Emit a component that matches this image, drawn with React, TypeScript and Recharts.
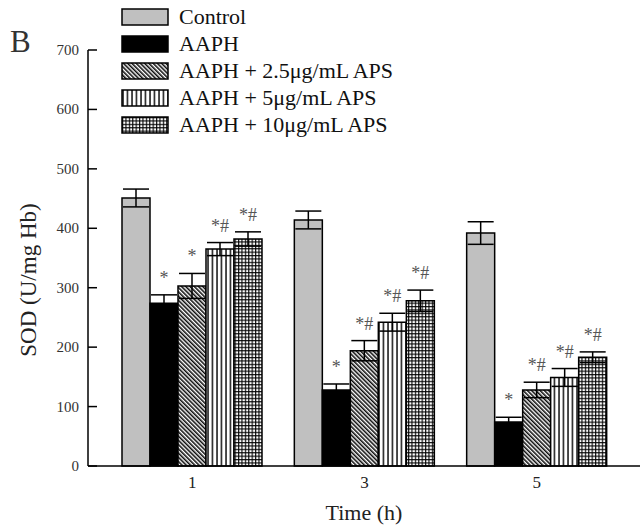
import React from 'react';
import { BarChart, Bar, XAxis, YAxis, ErrorBar, LabelList } from 'recharts';

document.body.style.margin = '0';

const FONT = '"Liberation Serif", "Times New Roman", serif';

// Time points (h)
const times = ['1', '3', '5'];

// SOD activity (U/mg Hb), mean and error per series
const control = [451, 414, 392];
const controlErr = [15, 15, 19];
const aaph = [274, 128, 74];
const aaphErr = [14, 10, 8];
const aps25 = [303, 194, 128];
const aps25Err = [21, 17, 13];
const aps5 = [365, 242, 149];
const aps5Err = [11, 15, 15];
const aps10 = [382, 278, 183];
const aps10Err = [12, 18, 9];

// significance marks above each bar
const aaphMarks = ['*', '*', '*'];
const aps25Marks = ['*', '*#', '*#'];
const aps5Marks = ['*#', '*#', '*#'];
const aps10Marks = ['*#', '*#', '*#'];

const yTicks = [0, 100, 200, 300, 400, 500, 600, 700];

const seriesNames = [
  'Control',
  'AAPH',
  'AAPH + 2.5\u03bcg/mL APS',
  'AAPH + 5\u03bcg/mL APS',
  'AAPH + 10\u03bcg/mL APS',
];
const seriesFills = ['#c0c0c0', '#000000', 'url(#hatch)', 'url(#vlines)', 'url(#grid)'];

const data = times.map((t, i) => ({
  time: t,
  control: control[i],
  controlErr: controlErr[i],
  aaph: aaph[i],
  aaphErr: aaphErr[i],
  aaphMark: aaphMarks[i],
  aps25: aps25[i],
  aps25Err: aps25Err[i],
  aps25Mark: aps25Marks[i],
  aps5: aps5[i],
  aps5Err: aps5Err[i],
  aps5Mark: aps5Marks[i],
  aps10: aps10[i],
  aps10Err: aps10Err[i],
  aps10Mark: aps10Marks[i],
}));

const YTick = (props: any) => {
  const { x, y, payload } = props;
  return (
    <g>
      <line x1={x} x2={x + 9} y1={y} y2={y} stroke="#000" strokeWidth={1.5} />
      <text x={x - 9} y={y} dy={5} textAnchor="end" fontSize={15} fontFamily={FONT} fill="#333">
        {payload.value}
      </text>
    </g>
  );
};

// draws the mark above the error bar; px per unit taken from the bar itself
const markLabel = (values: number[], errs: number[], marks: string[]) => (props: any) => {
  const { x, y, width, height, index } = props;
  const v = values[index];
  const errPx = v ? (errs[index] * height) / v : 0;
  return (
    <text
      x={x + width / 2}
      y={y - errPx - 11}
      textAnchor="middle"
      fontSize={18}
      fontFamily={FONT}
      fill="#555"
    >
      {marks[index]}
    </text>
  );
};

const errProps = { width: 13, stroke: '#000', strokeWidth: 1.5 };

export default function App() {
  return (
    <div style={{ width: 642, height: 528, background: '#fff' }}>
      <BarChart
        width={642}
        height={528}
        data={data}
        margin={{ top: 50, right: 2, bottom: 32, left: 48 }}
        barGap={0}
        barSize={28}
      >
        <defs>
          <pattern id="hatch" width="3" height="3" patternUnits="userSpaceOnUse" patternTransform="rotate(-45)">
            <rect width="3" height="3" fill="#fff" />
            <line x1="0.8" y1="0" x2="0.8" y2="3" stroke="#000" strokeWidth="1.5" />
          </pattern>
          <pattern id="vlines" width="4.5" height="4.5" patternUnits="userSpaceOnUse">
            <rect width="4.5" height="4.5" fill="#fff" />
            <line x1="1" y1="0" x2="1" y2="4.5" stroke="#000" strokeWidth="1.4" />
          </pattern>
          <pattern id="grid" width="3.4" height="3.4" patternUnits="userSpaceOnUse">
            <rect width="3.4" height="3.4" fill="#fff" />
            <line x1="0.6" y1="0" x2="0.6" y2="3.4" stroke="#000" strokeWidth="1.1" />
            <line x1="0" y1="0.6" x2="3.4" y2="0.6" stroke="#000" strokeWidth="1.1" />
          </pattern>
        </defs>

        <XAxis
          dataKey="time"
          tickLine={false}
          axisLine={{ stroke: '#000', strokeWidth: 1.5 }}
          padding={{ left: 18, right: 17 }}
          tick={{ fontSize: 17, fontFamily: FONT, fill: '#222' }}
          tickMargin={4}
        />
        <YAxis
          domain={[0, 700]}
          ticks={yTicks}
          width={40}
          tickSize={0}
          tickMargin={0}
          tickLine={false}
          axisLine={{ stroke: '#000', strokeWidth: 1.5 }}
          tick={<YTick />}
          interval={0}
        />

        <Bar dataKey="control" fill={seriesFills[0]} stroke="#000" strokeWidth={1.5} isAnimationActive={false}>
          <ErrorBar dataKey="controlErr" {...errProps} />
        </Bar>
        <Bar dataKey="aaph" fill={seriesFills[1]} stroke="#000" strokeWidth={1.5} isAnimationActive={false}>
          <ErrorBar dataKey="aaphErr" {...errProps} />
          <LabelList dataKey="aaphMark" content={markLabel(aaph, aaphErr, aaphMarks)} />
        </Bar>
        <Bar dataKey="aps25" fill={seriesFills[2]} stroke="#000" strokeWidth={1.5} isAnimationActive={false}>
          <ErrorBar dataKey="aps25Err" {...errProps} />
          <LabelList dataKey="aps25Mark" content={markLabel(aps25, aps25Err, aps25Marks)} />
        </Bar>
        <Bar dataKey="aps5" fill={seriesFills[3]} stroke="#000" strokeWidth={1.5} isAnimationActive={false}>
          <ErrorBar dataKey="aps5Err" {...errProps} />
          <LabelList dataKey="aps5Mark" content={markLabel(aps5, aps5Err, aps5Marks)} />
        </Bar>
        <Bar dataKey="aps10" fill={seriesFills[4]} stroke="#000" strokeWidth={1.5} isAnimationActive={false}>
          <ErrorBar dataKey="aps10Err" {...errProps} />
          <LabelList dataKey="aps10Mark" content={markLabel(aps10, aps10Err, aps10Marks)} />
        </Bar>

        {/* panel letter and axis titles */}
        <text x={10} y={52} fontSize={31} fontFamily={FONT} fill="#333">B</text>
        <text
          x={0}
          y={0}
          transform="translate(36,280) rotate(-90)"
          textAnchor="middle"
          fontSize={23}
          fontFamily={FONT}
          fill="#222"
        >
          SOD (U/mg Hb)
        </text>
        <text x={364} y={520} textAnchor="middle" fontSize={22} fontFamily={FONT} fill="#222">
          Time (h)
        </text>

        {/* legend */}
        <g>
          {seriesNames.map((name, i) => (
            <g key={name} transform={`translate(122, ${9 + i * 27})`}>
              <rect x={0} y={0} width={46} height={16} fill={seriesFills[i]} stroke="#000" strokeWidth={1.5} />
              <text x={57} y={15} fontSize={22} fontFamily={FONT} fill="#111">
                {name}
              </text>
            </g>
          ))}
        </g>
      </BarChart>
    </div>
  );
}
